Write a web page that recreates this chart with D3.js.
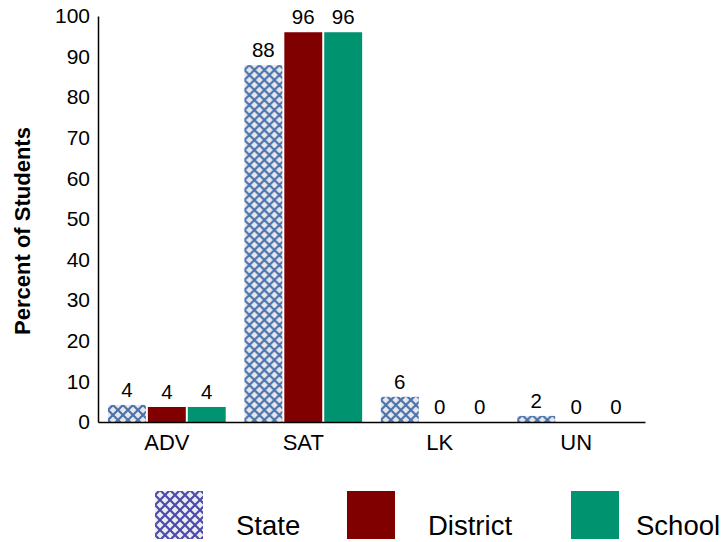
<!DOCTYPE html>
<html>
<head>
<meta charset="utf-8">
<script src="https://cdn.jsdelivr.net/npm/d3@7"></script>
<style>
  html, body { margin: 0; padding: 0; background: #fff; }
  svg { display: block; font-family: "Liberation Sans", Arial, sans-serif; }
</style>
</head>
<body>
<svg id="chart" width="722" height="542"></svg>
<script>
const categories = ["ADV", "SAT", "LK", "UN"];
const seriesNames = ["State", "District", "School"];
const stateValues = [4.2, 87.9, 6.2, 1.5];
const districtValues = [3.7, 96, 0, 0];
const schoolValues = [3.7, 96, 0, 0];
const yTicks = [0, 10, 20, 30, 40, 50, 60, 70, 80, 90, 100];

const seriesValues = [stateValues, districtValues, schoolValues];
const fills = ["url(#hatchBar)", "#800000", "#00936f"];
const legendFills = ["url(#hatchLegend)", "#800000", "#00936f"];

const svg = d3.select("#chart");
const defs = svg.append("defs");

function makePattern(id, bg, line) {
  const p = defs.append("pattern")
    .attr("id", id)
    .attr("patternUnits", "userSpaceOnUse")
    .attr("width", 10).attr("height", 10);
  p.append("rect").attr("width", 10).attr("height", 10).attr("fill", bg);
  p.append("path")
    .attr("d", "M-1,-1 L11,11 M11,-1 L-1,11")
    .attr("stroke", line).attr("stroke-width", 2.2).attr("fill", "none");
}
makePattern("hatchBar", "#e8e8ec", "#4a72ac");
makePattern("hatchLegend", "#eeeeef", "#4c4cae");

const margin = { left: 98, right: 645, top: 16, bottom: 422 };

const x0 = d3.scaleBand()
  .domain(categories)
  .range([margin.left, margin.right])
  .paddingInner(0.137)
  .paddingOuter(0.073);

const x1 = d3.scaleBand()
  .domain(seriesNames)
  .range([0, x0.bandwidth()])
  .paddingInner(0.05);

const y = d3.scaleLinear().domain([0, 100]).range([margin.bottom, margin.top]);

// y axis
const yAxis = d3.axisLeft(y).tickValues(yTicks).tickSize(0).tickPadding(8);
const gy = svg.append("g").attr("transform", `translate(${margin.left},0)`).call(yAxis);
gy.select(".domain").attr("stroke", "#000").attr("stroke-width", 1.5);
gy.selectAll("text").attr("font-size", 21).attr("fill", "#000")
  .attr("font-family", "Liberation Sans, Arial, sans-serif");

// bars
const groups = svg.append("g").selectAll("g")
  .data(categories)
  .join("g")
  .attr("transform", d => `translate(${x0(d)},0)`);

groups.selectAll("rect")
  .data((c, i) => seriesNames.map((s, j) => ({ s, j, v: seriesValues[j][i] })))
  .join("rect")
  .attr("x", d => x1(d.s))
  .attr("width", x1.bandwidth())
  .attr("y", d => y(d.v))
  .attr("height", d => y(0) - y(d.v))
  .attr("fill", d => fills[d.j]);

groups.selectAll("text.val")
  .data((c, i) => seriesNames.map((s, j) => ({ s, j, v: seriesValues[j][i] })))
  .join("text")
  .attr("class", "val")
  .attr("x", d => x1(d.s) + x1.bandwidth() / 2)
  .attr("y", d => y(d.v) - 8)
  .attr("text-anchor", "middle")
  .attr("font-size", 20.5)
  .attr("fill", "#000")
  .text(d => Math.round(d.v));

// x axis
const xAxis = d3.axisBottom(x0).tickSize(0).tickPadding(12);
const gx = svg.append("g").attr("transform", `translate(0,${margin.bottom})`).call(xAxis);
gx.select(".domain").attr("stroke", "#000").attr("stroke-width", 1.5);
gx.selectAll("text").attr("font-size", 22).attr("fill", "#000")
  .attr("font-family", "Liberation Sans, Arial, sans-serif");

// y label
svg.append("text")
  .attr("transform", "translate(30,231) rotate(-90)")
  .attr("text-anchor", "middle")
  .attr("font-size", 22)
  .attr("font-weight", "bold")
  .text("Percent of Students");

// legend
const legendX = [155, 347, 571];
const legendTextX = [236, 428, 636];
const legend = svg.append("g").selectAll("g")
  .data(seriesNames)
  .join("g");
legend.append("rect")
  .attr("x", (d, i) => legendX[i]).attr("y", 491)
  .attr("width", 48).attr("height", 48)
  .attr("fill", (d, i) => legendFills[i]);
legend.append("text")
  .attr("x", (d, i) => legendTextX[i]).attr("y", 535)
  .attr("font-size", 27.5)
  .text(d => d);
</script>
</body>
</html>
